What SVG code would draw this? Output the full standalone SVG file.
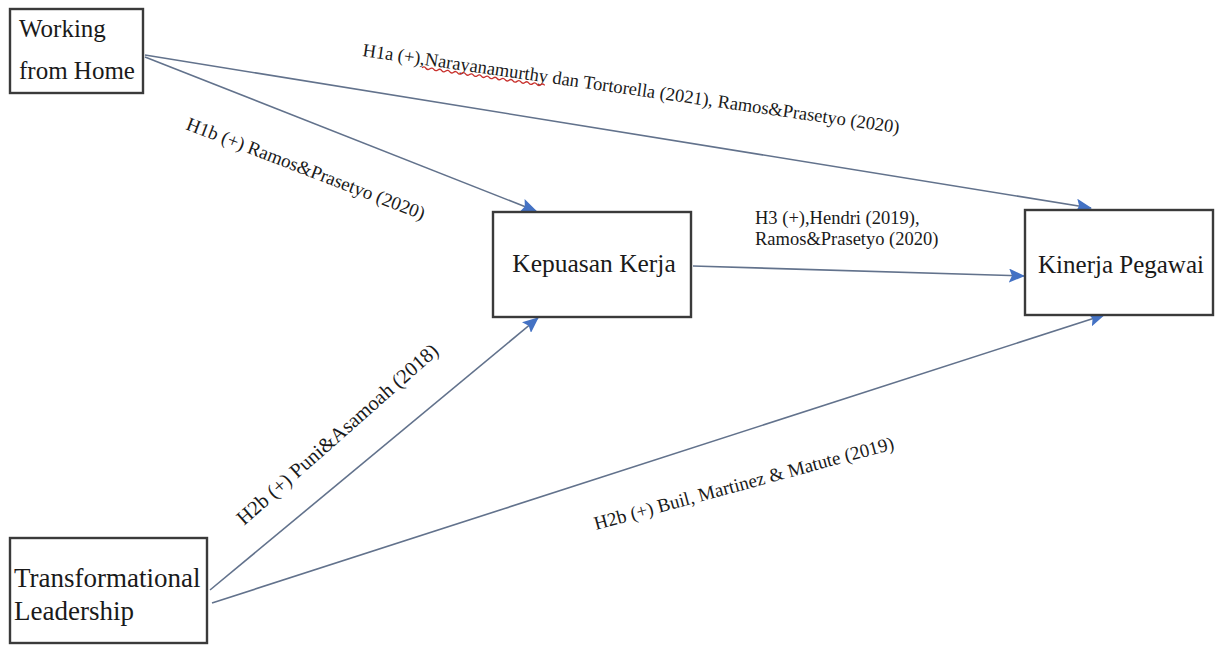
<svg xmlns="http://www.w3.org/2000/svg" width="1222" height="645" viewBox="0 0 1222 645">
<style>
  .box { fill: #ffffff; stroke: #3a3a3a; stroke-width: 2.4; }
  .node { font-family: "Liberation Serif", "Times New Roman", serif; font-size: 25px; fill: #1a1a1a; }
  .lbl { font-family: "Liberation Serif", "Times New Roman", serif; font-size: 19px; fill: #1a1a1a; }
  .conn { stroke: #62728c; stroke-width: 1.6; fill: none; marker-end: url(#arr); }
</style>
<defs>
  <marker id="arr" markerUnits="userSpaceOnUse" markerWidth="16" markerHeight="14" viewBox="0 0 16 14" refX="15" refY="7" orient="auto">
    <path d="M0,0 L16,7 L0,14 L3,7 Z" fill="#4472c4"/>
  </marker>
</defs>
<rect width="1222" height="645" fill="#ffffff"/>

<g id="connectors">
  <line class="conn" x1="145" y1="55" x2="1091" y2="208"/>
  <line class="conn" x1="145" y1="57" x2="536" y2="211"/>
  <line class="conn" x1="693" y1="266" x2="1024" y2="276"/>
  <line class="conn" x1="210" y1="590" x2="538" y2="318"/>
  <line class="conn" x1="212" y1="603" x2="1104" y2="315"/>
</g>

<g id="labels">
  <g transform="translate(362,56) rotate(8.2)">
    <text class="lbl" x="0" y="0" style="font-size:18.5px">H1a (+),Narayanamurthy dan Tortorella (2021), Ramos&amp;Prasetyo (2020)</text>
    <path d="M61,3 q2,-2 4,0 t4,0 t4,0 t4,0 t4,0 t4,0 t4,0 t4,0 t4,0 t4,0 t4,0 t4,0 t4,0 t4,0 t4,0 t4,0 t4,0 t4,0 t4,0 t4,0 t4,0 t4,0 t4,0 t4,0 t4,0 t4,0 t4,0 t4,0 t4,0 t4,0 t4,0" fill="none" stroke="#c8302c" stroke-width="1.3"/>
  </g>
  <text class="lbl" transform="translate(185,129) rotate(21)">H1b (+) Ramos&amp;Prasetyo (2020)</text>
  <text class="lbl" style="font-size:18.5px" x="755" y="224">H3 (+),Hendri (2019),</text>
  <text class="lbl" style="font-size:18.5px" x="755" y="245">Ramos&amp;Prasetyo (2020)</text>
  <text class="lbl" style="font-size:20.5px" transform="translate(244,526) rotate(-41.5)">H2b (+) Puni&amp;Asamoah (2018)</text>
  <text class="lbl" transform="translate(596,530) rotate(-15.2)">H2b (+) Buil, Martinez &amp; Matute (2019)</text>
</g>

<g id="node-wfh">
  <rect class="box" x="10" y="9" width="133" height="84"/>
  <text class="node" x="19" y="37">Working</text>
  <text class="node" x="19" y="79">from Home</text>
</g>

<g id="node-kepuasan">
  <rect class="box" x="493" y="212" width="198" height="105"/>
  <text class="node" x="594" y="272" text-anchor="middle" style="font-size:25.5px">Kepuasan Kerja</text>
</g>

<g id="node-kinerja">
  <rect class="box" x="1025" y="210" width="188" height="105"/>
  <text class="node" x="1121" y="273" text-anchor="middle">Kinerja Pegawai</text>
</g>

<g id="node-tl">
  <rect class="box" x="10" y="538" width="197" height="105"/>
  <text class="node" x="14" y="587" style="font-size:27px">Transformational</text>
  <text class="node" x="14" y="620" style="font-size:27px">Leadership</text>
</g>
</svg>
